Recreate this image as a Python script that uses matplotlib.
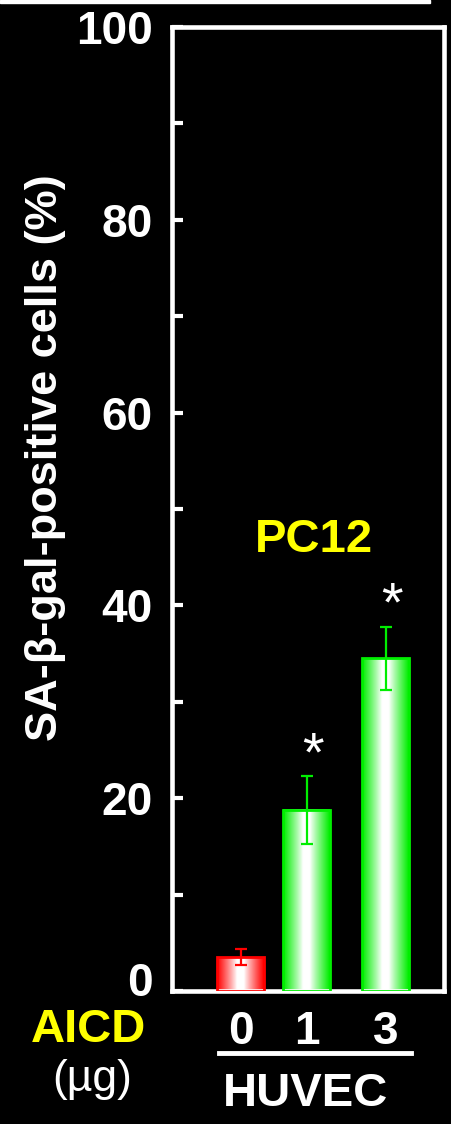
import numpy as np
import matplotlib.pyplot as plt
from matplotlib.patches import Rectangle
from matplotlib.lines import Line2D
from matplotlib.colors import to_rgb
from matplotlib.transforms import ScaledTranslation

# data
doses = ['0', '1', '3']
means = [3.5, 18.8, 34.5]
errors = [0.85, 3.5, 3.3]
significant = [False, True, True]
bar_colors = ['#ff0000', '#00ee00', '#00ee00']
yticks = [0, 20, 40, 60, 80, 100]

plt.rcParams['font.family'] = ['Liberation Sans', 'DejaVu Sans']

W, H = 452, 1124
fig = plt.figure(figsize=(W / 100, H / 100), dpi=100, facecolor='black')
ax = fig.add_axes([172 / W, 1 - 991 / H, 272 / W, 964 / H])
ax.set_facecolor('black')

xpos = np.array([0, 1, 2.2])
width = 0.71

# horizontal gradient: coloured edges, white middle
t = np.linspace(-1, 1, 80)
wgt = np.clip((np.abs(t) - 0.15) / 0.85, 0, 1) ** 0.9

for x, m, e, c, s in zip(xpos, means, errors, bar_colors, significant):
    rgb = np.array(to_rgb(c))
    grad = (1 - wgt)[:, None] + wgt[:, None] * rgb
    ax.imshow(grad[None, :, :], extent=[x - width / 2, x + width / 2, 0, m],
              aspect='auto', zorder=2, interpolation='bilinear')
    ax.bar(x, m, width, facecolor='none', edgecolor=c, linewidth=2, zorder=3)
    ax.errorbar(x, m, yerr=e, fmt='none', ecolor=c, elinewidth=1.6,
                capsize=4, capthick=1.6, zorder=4)
    if s:
        ax.text(x + 0.1, m + e + 0.6, '*', color='white', fontsize=40,
                ha='center', va='baseline', zorder=5)

ax.set_xlim(-1.045, 3.086)
ax.set_ylim(0, 100)

ax.set_yticks(yticks)
ax.set_yticklabels([str(v) for v in yticks], fontweight='bold')
ax.set_yticks(np.arange(10, 100, 20), minor=True)
ax.tick_params(axis='y', which='both', direction='in', length=8, width=3,
               colors='white', labelsize=33, pad=14)
ax.set_xticks(xpos)
ax.set_xticklabels(doses, fontweight='bold')
ax.tick_params(axis='x', length=0, colors='white', labelsize=33, pad=14)

# the "0" label sits a bit higher than its tick in the original
lbl0 = ax.get_yticklabels()[0]
lbl0.set_transform(lbl0.get_transform() + ScaledTranslation(0, 0.12, fig.dpi_scale_trans))

for sp in ax.spines.values():
    sp.set_color('white')
    sp.set_linewidth(3.3)

fig.text(46 / W, 1 - 458 / H, 'SA-β-gal-positive cells (%)', rotation=90,
         ha='center', va='center', color='white', fontsize=32.5, fontweight='bold')

fig.text(314 / W, 1 - 540 / H, 'PC12', color='#ffff00', fontsize=34,
         fontweight='bold', ha='center', va='center')
fig.text(88 / W, 1 - 1030 / H, 'AICD', color='#ffff00', fontsize=34,
         fontweight='bold', ha='center', va='center')
fig.text(92 / W, 1 - 1080 / H, '(µg)', color='white', fontsize=32,
         ha='center', va='center')
fig.text(306 / W, 1 - 1094 / H, 'HUVEC', color='white', fontsize=34,
         fontweight='bold', ha='center', va='center')

fig.add_artist(Line2D([219 / W, 411 / W], [1 - 1053 / H, 1 - 1053 / H],
                      transform=fig.transFigure, color='white', linewidth=3.5))
fig.add_artist(Rectangle((0, 1 - 3 / H), 430 / W, 3 / H,
                         transform=fig.transFigure, color='white'))

fig.savefig('out.png', dpi=100, facecolor='black')
